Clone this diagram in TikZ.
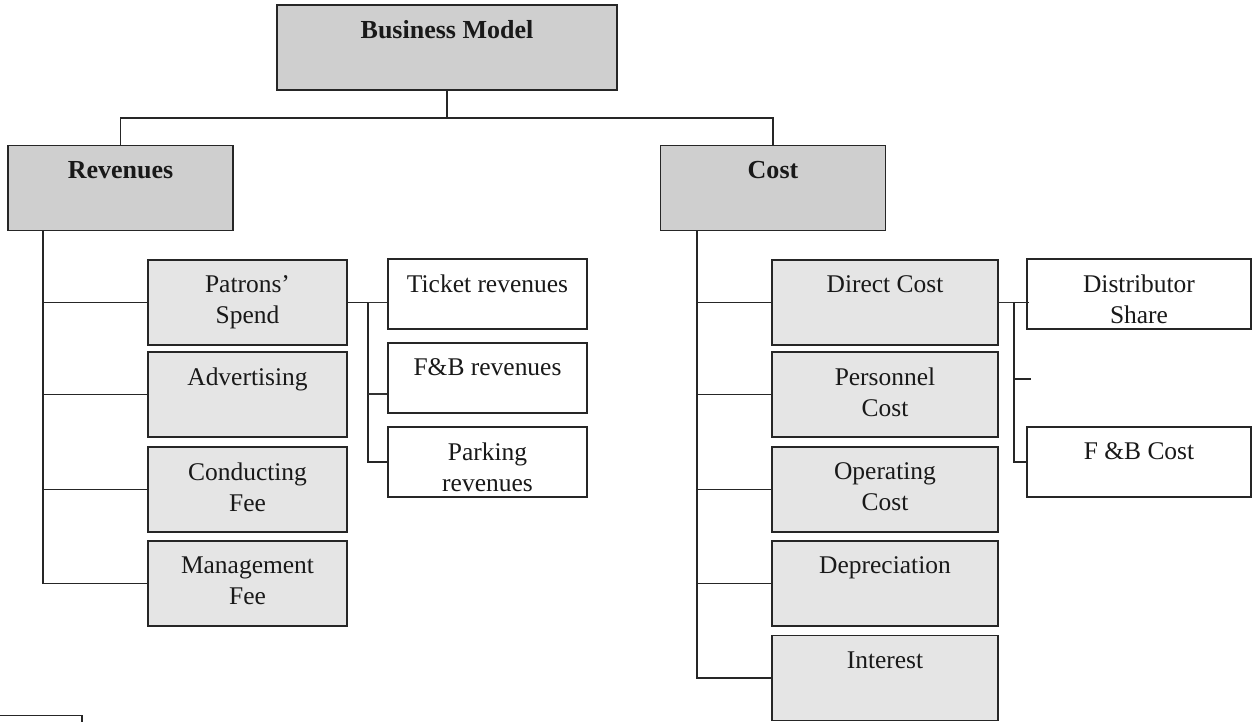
\documentclass[tikz,border=0pt]{standalone}
\usepackage{fontspec}
\setmainfont{Liberation Serif}
\usetikzlibrary{positioning}

\tikzset{
  topbox/.style={draw=black!85, line width=1.1pt, fill=black!19, minimum width=4.5cm, minimum height=1.7cm, inner sep=0pt},
  kidbox/.style={draw=black!85, line width=1.1pt, fill=black!10, minimum width=3.98cm, minimum height=1.7cm, inner sep=0pt},
  subbox/.style={draw=black!85, line width=1.1pt, fill=white, minimum width=3.98cm, minimum height=1.4cm, inner sep=0pt},
  txt/.style={anchor=north, yshift=-0.33cm, inner sep=0pt, align=center, text=black!90, font=\fontsize{14.5}{17.6}\selectfont},
  txtb/.style={txt, font=\fontsize{14.8}{17.6}\selectfont\bfseries},
  link/.style={line width=1.1pt, draw=black!85},
  fine/.style={line width=0.6pt, draw=black!80}
}

\begin{document}
\begin{tikzpicture}[x=0.02cm, y=-0.02cm]
  \useasboundingbox (0,0) rectangle (1252,722);

  % top level
  \node[topbox, minimum width=6.8cm, label={[txtb]north:Business Model}] (model) at (447,47.5) {};
  \node[topbox, label={[txtb]north:Revenues}] (rev) at (120.5,188) {};
  \node[topbox, label={[txtb]north:Cost}] (cost) at (773,188) {};

  % revenues
  \node[kidbox, label={[txt]north:{Patrons’\\Spend}}] (spend) at (247.5,302.5) {};
  \node[kidbox, label={[txt]north:Advertising}] (advert) at (247.5,394.5) {};
  \node[kidbox, label={[txt]north:{Conducting\\Fee}}] (confee) at (247.5,489.5) {};
  \node[kidbox, label={[txt]north:{Management\\Fee}}] (mgmtfee) at (247.5,583.5) {};

  \node[subbox, label={[txt]north:Ticket revenues}] (ticket) at (487.5,294) {};
  \node[subbox, label={[txt]north:F\&B revenues}] (fbrev) at (487.5,378) {};
  \node[subbox, label={[txt]north:{Parking\\revenues}}] (parking) at (487.5,462) {};

  % cost
  \node[kidbox, minimum width=4.52cm, label={[txt]north:Direct Cost}] (direct) at (885,302.5) {};
  \node[kidbox, minimum width=4.52cm, label={[txt]north:{Personnel\\Cost}}] (personnel) at (885,394.5) {};
  \node[kidbox, minimum width=4.52cm, label={[txt]north:{Operating\\Cost}}] (operating) at (885,489.5) {};
  \node[kidbox, minimum width=4.52cm, label={[txt]north:Depreciation}] (deprec) at (885,583.5) {};
  \node[kidbox, minimum width=4.52cm, label={[txt]north:Interest}] (interest) at (885,678) {};

  \node[subbox, minimum width=4.48cm, label={[txt]north:{Distributor\\Share}}] (distshare) at (1139,294) {};
  \node[subbox, minimum width=4.48cm, label={[txt]north:F \&B Cost}] (fbcost) at (1139,462) {};

  % connectors
  \draw[link] (model.south) -- ++(0,27) -| (rev.north);
  \draw[link] (model.south) -- ++(0,27) -| (cost.north);

  \coordinate (rtrunk) at (43,230.5);
  \draw[link] (rtrunk) |- (mgmtfee.west);
  \foreach \n in {spend,advert,confee}
    \draw[link] (rtrunk |- \n.west) -- (\n.west);

  \coordinate (ctrunk) at (697,230.5);
  \draw[link] (ctrunk) |- (interest.west);
  \foreach \n in {direct,personnel,operating,deprec}
    \draw[link] (ctrunk |- \n.west) -- (\n.west);

  \coordinate (rsplit) at (368,0);
  \draw[link] (spend.east) -- (spend.east -| rsplit) |- (parking.west);
  \draw[fine] (spend.east -| rsplit) -- (spend.east -| ticket.west);
  \draw[fine] ([yshift=-0.32cm]fbrev.west -| rsplit) -- ([yshift=-0.32cm]fbrev.west);

  \coordinate (csplit) at (1014,0);
  \coordinate (cstub) at (1031,379);
  \draw[fine] (direct.east) -- (direct.east -| csplit);
  \draw[link] (direct.east -| csplit) -- ([xshift=0.06cm]direct.east -| distshare.west);
  \draw[link] (direct.east -| csplit) |- (fbcost.west);
  \draw[link] (cstub -| csplit) -- (cstub);

  % cut-off box at the bottom edge
  \draw[link] (0,715.5) -- (82,715.5) -- (82,730);
\end{tikzpicture}
\end{document}
